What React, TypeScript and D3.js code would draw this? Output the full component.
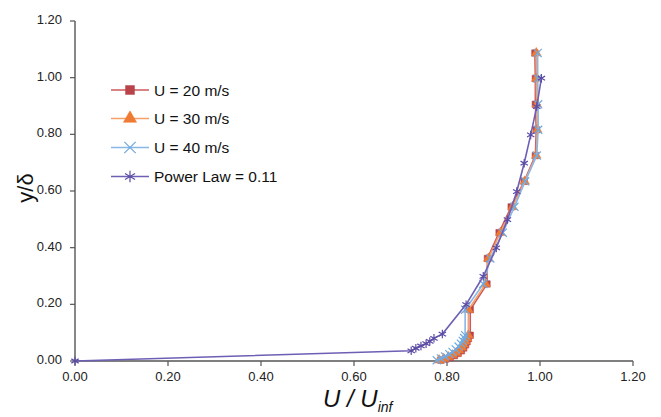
import React, { useEffect, useRef } from 'react';
import * as d3 from 'd3';

// axis ticks
const xTicks = [0, 0.2, 0.4, 0.6, 0.8, 1.0, 1.2];
const yTicks = [0, 0.2, 0.4, 0.6, 0.8, 1.0, 1.2];

// y/delta stations above the near-wall region (shared by the three runs)
const yOuter = [0.091, 0.181, 0.272, 0.362, 0.453, 0.544, 0.634, 0.725, 0.816, 0.906, 0.997, 1.087];

// U = 20 m/s
const yNear20 = [0.003, 0.007, 0.012, 0.019, 0.027, 0.036, 0.046, 0.057, 0.068, 0.079];
const xNear20 = [0.787, 0.797, 0.807, 0.816, 0.824, 0.831, 0.836, 0.840, 0.843, 0.846];
const xOuter20 = [0.850, 0.850, 0.886, 0.887, 0.912, 0.938, 0.966, 0.990, 0.992, 0.990, 0.990, 0.989];

// U = 30 m/s
const yNear30 = [0.003, 0.008, 0.014, 0.021, 0.029, 0.038, 0.048, 0.058, 0.069, 0.080];
const xNear30 = [0.783, 0.793, 0.803, 0.812, 0.820, 0.826, 0.832, 0.836, 0.840, 0.843];
const xOuter30 = [0.846, 0.846, 0.883, 0.889, 0.915, 0.941, 0.967, 0.992, 0.994, 0.993, 0.992, 0.992];

// U = 40 m/s
const yNear40 = [0.003, 0.009, 0.016, 0.024, 0.032, 0.041, 0.051, 0.061, 0.071, 0.081];
const xNear40 = [0.778, 0.787, 0.796, 0.805, 0.812, 0.819, 0.825, 0.830, 0.834, 0.837];
const xOuter40 = [0.839, 0.839, 0.878, 0.893, 0.920, 0.945, 0.968, 0.993, 0.996, 0.996, 0.995, 0.995];

// power law, n = 0.11
const yPower = [0, 0.036, 0.045, 0.053, 0.061, 0.069, 0.080, 0.095, 0.199, 0.299, 0.399, 0.499, 0.598, 0.698, 0.798, 0.898, 0.998];
const xPower = [0, 0.723, 0.733, 0.744, 0.755, 0.763, 0.772, 0.790, 0.841, 0.878, 0.906, 0.930, 0.950, 0.966, 0.980, 0.993, 1.003];

const seriesNames = ['U = 20 m/s', 'U = 30 m/s', 'U = 40 m/s', 'Power Law = 0.11'];

const App = () => {
  const ref = useRef<SVGSVGElement | null>(null);

  useEffect(() => {
    const svg = d3.select(ref.current);
    svg.selectAll('*').remove();

    const font = 'Liberation Sans, Arial, sans-serif';
    const x = d3.scaleLinear().domain([0, 1.2]).range([75, 633]);
    const y = d3.scaleLinear().domain([0, 1.2]).range([361, 21]);

    const series = [
      { name: seriesNames[0], xs: [...xNear20, ...xOuter20], ys: [...yNear20, ...yOuter], line: '#cc5a5c', mark: '#b9434a', sym: d3.symbolSquare, size: 42, fill: true },
      { name: seriesNames[1], xs: [...xNear30, ...xOuter30], ys: [...yNear30, ...yOuter], line: '#f5a06a', mark: '#ef7a34', sym: d3.symbolTriangle, size: 40, fill: true },
      { name: seriesNames[2], xs: [...xNear40, ...xOuter40], ys: [...yNear40, ...yOuter], line: '#86b8e8', mark: '#6fa9e0', sym: d3.symbolTimes, size: 45, fill: false },
      { name: seriesNames[3], xs: xPower, ys: yPower, line: '#6f5fb4', mark: '#5c4ca6', sym: d3.symbolAsterisk, size: 50, fill: false },
    ];

    // axes
    const axisColor = '#555';
    svg.append('line').attr('x1', x(0)).attr('x2', x(1.2)).attr('y1', y(0)).attr('y2', y(0))
      .attr('stroke', axisColor).attr('stroke-width', 1.4);
    svg.append('line').attr('x1', x(0)).attr('x2', x(0)).attr('y1', y(0)).attr('y2', y(1.2))
      .attr('stroke', axisColor).attr('stroke-width', 1.4);

    xTicks.forEach((t) => {
      svg.append('line').attr('x1', x(t)).attr('x2', x(t)).attr('y1', y(0)).attr('y2', y(0) + 5)
        .attr('stroke', axisColor).attr('stroke-width', 1.2);
      svg.append('text').attr('x', x(t)).attr('y', 380.5).attr('text-anchor', 'middle')
        .attr('font-family', font).attr('font-size', 13).attr('fill', '#222').text(t.toFixed(2));
    });
    yTicks.forEach((t) => {
      svg.append('line').attr('x1', x(0) - 5).attr('x2', x(0)).attr('y1', y(t)).attr('y2', y(t))
        .attr('stroke', axisColor).attr('stroke-width', 1.2);
      svg.append('text').attr('x', 62).attr('y', y(t) + 3).attr('text-anchor', 'end')
        .attr('font-family', font).attr('font-size', 13).attr('fill', '#222').text(t.toFixed(2));
    });

    // axis titles
    svg.append('text').attr('transform', 'translate(33,188) rotate(-90)').attr('text-anchor', 'middle')
      .attr('font-family', font).attr('font-size', 22).attr('fill', '#111').text('y/δ');
    const xt = svg.append('text').attr('x', 323).attr('y', 406.5)
      .attr('font-family', font).attr('font-style', 'italic').attr('font-size', 24).attr('fill', '#111');
    xt.append('tspan').text('U / U');
    xt.append('tspan').attr('font-size', 14).attr('dy', 5).text('inf');

    const line = d3.line<[number, number]>().x((d) => x(d[0])).y((d) => y(d[1]));

    series.forEach((s) => {
      const pts: [number, number][] = s.xs.map((v, i) => [v, s.ys[i]]);
      svg.append('path').attr('d', line(pts)).attr('fill', 'none')
        .attr('stroke', s.line).attr('stroke-width', 1.6);
      const sym = d3.symbol().type(s.sym).size(s.size);
      svg.append('g').selectAll('path').data(pts).enter().append('path')
        .attr('transform', (d) => `translate(${x(d[0])},${y(d[1])})`)
        .attr('d', sym())
        .attr('fill', s.fill ? s.mark : 'none')
        .attr('stroke', s.mark)
        .attr('stroke-width', s.fill ? 0.5 : 1.2);
    });

    // legend
    const legendY = [90, 118.5, 147.5, 176.5];
    series.forEach((s, i) => {
      const g = svg.append('g').attr('transform', `translate(0,${legendY[i]})`);
      g.append('line').attr('x1', 111).attr('x2', 149).attr('stroke', s.line).attr('stroke-width', 1.6);
      g.append('path').attr('transform', 'translate(130,0)')
        .attr('d', d3.symbol().type(s.sym).size(s.size * 1.9)())
        .attr('fill', s.fill ? s.mark : 'none').attr('stroke', s.mark)
        .attr('stroke-width', s.fill ? 0.5 : 1.2);
      g.append('text').attr('x', 154).attr('y', 5.5)
        .attr('font-family', font).attr('font-size', 15.5).attr('fill', '#111').text(s.name);
    });
  }, []);

  return (
    <svg ref={ref} width={661} height={417}
      style={{ position: 'absolute', left: 0, top: 0, background: '#fff' }} />
  );
};

export default App;
